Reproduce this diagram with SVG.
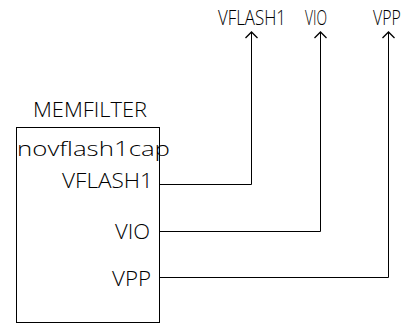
<svg xmlns="http://www.w3.org/2000/svg" width="408" height="324" viewBox="0 0 408 324">
<defs>
<style>
text{font-family:"Open Sans","Liberation Sans",sans-serif;font-weight:300;font-size:21px;fill:#000}
.w{fill:none;stroke:#000;stroke-width:1}
</style>
<marker id="arr" markerWidth="14" markerHeight="14" refX="7" refY="7" orient="auto" markerUnits="userSpaceOnUse" viewBox="0 0 14 14">
<path d="M1,1 L7,7 L1,13" fill="none" stroke="#000" stroke-width="1.3"/>
</marker>
</defs>
<rect width="408" height="324" fill="#fff"/>
<g id="memfilter">
<rect x="16.5" y="127.5" width="143" height="195" class="w"/>
<text x="33" y="117" textLength="114" lengthAdjust="spacingAndGlyphs">MEMFILTER</text>
<text x="17" y="156" textLength="153" lengthAdjust="spacingAndGlyphs">novflash1cap</text>
<text x="62" y="188" textLength="91" lengthAdjust="spacingAndGlyphs">VFLASH1</text>
<text x="115" y="239" textLength="35" lengthAdjust="spacingAndGlyphs">VIO</text>
<text x="112" y="286" textLength="39" lengthAdjust="spacingAndGlyphs">VPP</text>
</g>
<g id="port-vflash1"><text x="218" y="25" textLength="68" lengthAdjust="spacingAndGlyphs">VFLASH1</text></g>
<g id="port-vio"><text x="305" y="25" textLength="22" lengthAdjust="spacingAndGlyphs">VIO</text></g>
<g id="port-vpp"><text transform="translate(373,25) scale(0.75,1)" x="0" y="0" textLength="37" lengthAdjust="spacingAndGlyphs">VPP</text></g>
<g id="connectors">
<path class="w" d="M159.5,184.5 H251.5 V32" marker-end="url(#arr)"/>
<path class="w" d="M159.5,231.5 H320.5 V32" marker-end="url(#arr)"/>
<path class="w" d="M159.5,277.5 H388.5 V32" marker-end="url(#arr)"/>
</g>
</svg>
